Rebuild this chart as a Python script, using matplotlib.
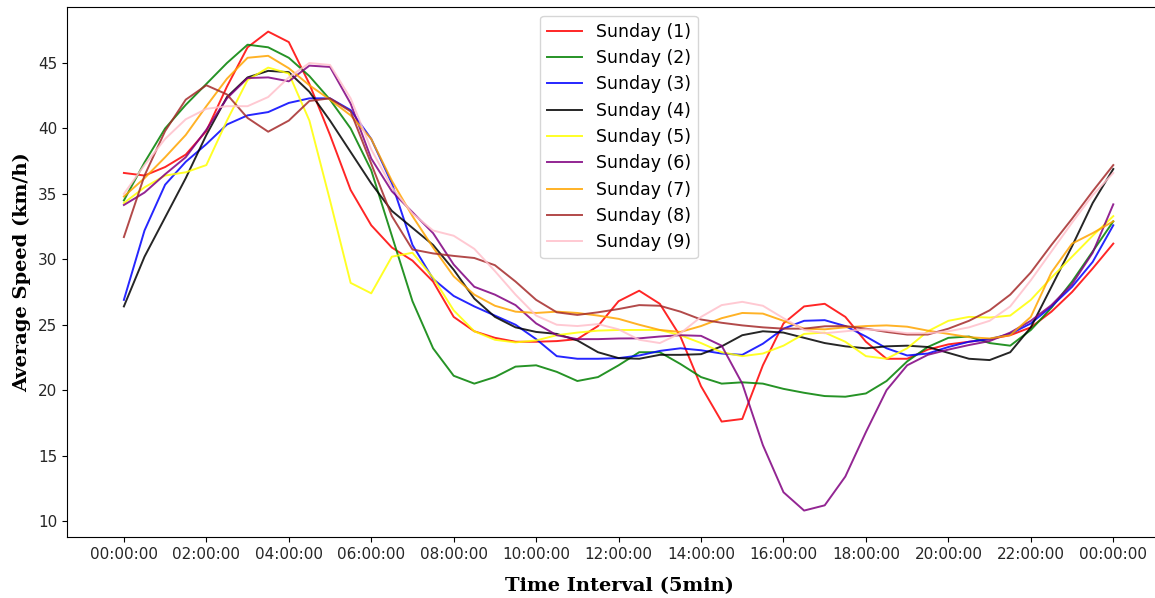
import numpy as np
import matplotlib
matplotlib.use("Agg")
import matplotlib.pyplot as plt

# time in hours, every 30 minutes (0 .. 24)
hours = [i * 0.5 for i in range(49)]

sunday_1 = [36.6, 36.4, 37.05, 38.0, 39.8, 43.2, 46.2, 47.4, 46.6, 43.4, 39.5, 35.3, 32.6, 30.9, 29.9, 28.3,
            25.6, 24.5, 24.0, 23.7, 23.7, 23.75, 23.9, 24.9, 26.8, 27.6, 26.6, 24.1, 20.3, 17.6, 17.8, 21.9,
            25.1, 26.4, 26.6, 25.6, 23.7, 22.4, 22.4, 23.1, 23.5, 23.7, 23.9, 24.2, 24.8, 26.0, 27.5, 29.3, 31.2]
sunday_2 = [34.5, 37.4, 40.0, 41.8, 43.4, 45.0, 46.4, 46.2, 45.4, 44.0, 42.2, 40.0, 36.8, 31.8, 26.8, 23.2,
            21.1, 20.5, 21.0, 21.8, 21.9, 21.4, 20.7, 21.0, 21.9, 22.9, 22.9, 22.0, 21.0, 20.5, 20.6, 20.5,
            20.1, 19.8, 19.55, 19.5, 19.75, 20.7, 22.2, 23.3, 24.0, 24.1, 23.6, 23.4, 24.6, 26.3, 28.3, 30.6, 32.9]
sunday_3 = [26.9, 32.2, 35.7, 37.45, 38.8, 40.3, 41.0, 41.25, 41.95, 42.3, 42.3, 41.4, 39.2, 35.8, 31.1, 28.5,
            27.2, 26.4, 25.7, 25.0, 23.9, 22.6, 22.4, 22.4, 22.45, 22.65, 23.0, 23.2, 23.05, 22.8, 22.7, 23.55,
            24.7, 25.3, 25.35, 24.9, 24.1, 23.2, 22.65, 22.8, 23.3, 23.7, 23.9, 24.3, 25.1, 26.4, 27.9, 29.8, 32.6]
sunday_4 = [26.4, 30.2, 33.2, 36.2, 39.5, 42.4, 43.9, 44.4, 44.3, 42.8, 40.6, 38.2, 35.8, 33.7, 32.4, 31.1,
            29.2, 27.0, 25.6, 24.8, 24.45, 24.3, 23.8, 22.9, 22.45, 22.4, 22.7, 22.7, 22.75, 23.35, 24.2, 24.5,
            24.4, 24.0, 23.6, 23.35, 23.2, 23.35, 23.4, 23.3, 22.85, 22.4, 22.3, 22.9, 24.8, 27.9, 31.0, 34.3, 36.9]
sunday_5 = [34.3, 35.5, 36.4, 36.65, 37.2, 40.6, 43.7, 44.65, 44.2, 40.6, 34.5, 28.2, 27.4, 30.2, 30.5, 28.6,
            26.1, 24.5, 23.85, 23.65, 23.8, 24.2, 24.4, 24.55, 24.6, 24.6, 24.6, 24.2, 23.6, 22.9, 22.6, 22.8,
            23.4, 24.3, 24.4, 23.7, 22.6, 22.4, 23.2, 24.5, 25.3, 25.6, 25.55, 25.7, 26.9, 28.6, 30.2, 31.8, 33.3]
sunday_6 = [34.15, 35.1, 36.5, 37.8, 39.9, 42.3, 43.85, 43.9, 43.6, 44.8, 44.7, 41.9, 37.7, 35.2, 33.6, 32.0,
            29.6, 27.9, 27.3, 26.5, 25.1, 24.2, 23.9, 23.9, 23.95, 23.96, 24.1, 24.2, 24.15, 23.4, 20.5, 15.8,
            12.2, 10.8, 11.2, 13.4, 16.8, 20.0, 21.9, 22.7, 23.1, 23.45, 23.75, 24.4, 25.3, 26.5, 28.1, 30.5, 34.2]
sunday_7 = [34.8, 36.2, 37.8, 39.5, 41.7, 43.8, 45.4, 45.55, 44.6, 43.3, 42.2, 41.0, 39.2, 36.0, 33.3, 30.9,
            28.7, 27.3, 26.45, 26.0, 25.9, 26.0, 25.9, 25.7, 25.45, 25.0, 24.6, 24.45, 24.9, 25.5, 25.9, 25.85,
            25.3, 24.7, 24.65, 24.8, 24.9, 24.95, 24.85, 24.55, 24.3, 24.05, 23.95, 24.2, 25.6, 29.0, 31.2, 32.0, 32.9]
sunday_8 = [31.7, 36.4, 39.8, 42.2, 43.3, 42.6, 40.8, 39.75, 40.6, 42.1, 42.3, 41.3, 37.3, 33.3, 30.75, 30.45,
            30.26, 30.1, 29.55, 28.3, 26.9, 25.95, 25.75, 25.95, 26.2, 26.5, 26.45, 26.0, 25.4, 25.15, 24.95, 24.8,
            24.7, 24.7, 24.88, 24.9, 24.7, 24.45, 24.25, 24.25, 24.7, 25.3, 26.1, 27.3, 29.0, 31.1, 33.1, 35.2, 37.2]
sunday_9 = [35.0, 37.2, 39.2, 40.7, 41.5, 41.7, 41.7, 42.4, 43.9, 45.0, 44.85, 42.3, 38.4, 35.5, 33.5, 32.2,
            31.8, 30.8, 29.1, 27.3, 25.7, 25.0, 24.9, 25.05, 24.65, 23.85, 23.6, 24.35, 25.6, 26.5, 26.75, 26.45,
            25.5, 24.6, 24.35, 24.5, 24.65, 24.55, 24.35, 24.35, 24.5, 24.8, 25.3, 26.4, 28.4, 30.6, 32.8, 34.9, 36.6]

series_labels = ["Sunday (1)", "Sunday (2)", "Sunday (3)", "Sunday (4)", "Sunday (5)",
                 "Sunday (6)", "Sunday (7)", "Sunday (8)", "Sunday (9)"]
series_colors = ["red", "green", "blue", "black", "yellow", "purple", "orange", "brown", "pink"]
series_values = [sunday_1, sunday_2, sunday_3, sunday_4, sunday_5, sunday_6, sunday_7, sunday_8, sunday_9]

tick_positions = [0, 2, 4, 6, 8, 10, 12, 14, 16, 18, 20, 22, 24]
tick_labels = ["00:00:00", "02:00:00", "04:00:00", "06:00:00", "08:00:00", "10:00:00", "12:00:00",
               "14:00:00", "16:00:00", "18:00:00", "20:00:00", "22:00:00", "00:00:00"]

fig = plt.figure(figsize=(11.55, 5.98), dpi=100)
ax = fig.add_axes([67 / 1155, 1 - 537 / 598, (1171 - 67) / 1155, (537 - 7) / 598])

for vals, lab, col in zip(series_values, series_labels, series_colors):
    ax.plot(hours, vals, color=col, label=lab, linewidth=1.4, alpha=0.85)

ax.set_xlim(-1.38, 25.4)
ax.set_ylim(8.78, 49.28)
ax.set_xticks(tick_positions)
ax.set_xticklabels(tick_labels)
ax.set_yticks([10, 15, 20, 25, 30, 35, 40, 45])
ax.tick_params(axis="both", labelsize=11, labelcolor="#262626")

ax.set_xlabel("Time Interval (5min)", family="DejaVu Serif", fontweight="bold", fontsize=14, labelpad=11)
ax.set_ylabel("Average Speed (km/h)", family="DejaVu Serif", fontweight="bold", fontsize=14, labelpad=5)

ax.legend(loc="upper center", fontsize=12.5, labelspacing=0.48)

fig.savefig("out.png", dpi=100)
